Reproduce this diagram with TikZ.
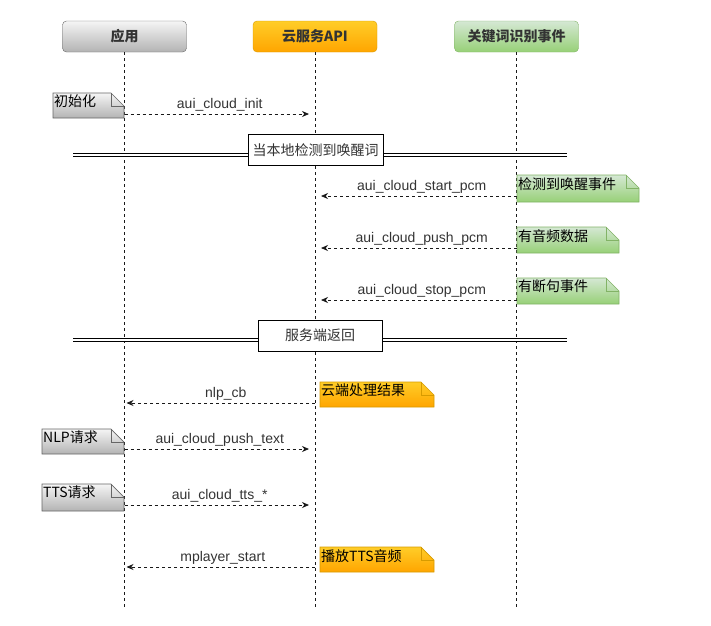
\documentclass[tikz,border=0pt]{standalone}
\usepackage{fontspec}
\setmainfont{Liberation Sans}
\newfontfamily\cjk{Noto Sans CJK SC}
\usetikzlibrary{arrows.meta, positioning, calc}
\definecolor{grayfill}{HTML}{F5F5F5}
\definecolor{graygrad}{HTML}{B3B3B3}
\definecolor{graystroke}{HTML}{666666}
\definecolor{orangefill}{HTML}{FFCD28}
\definecolor{orangegrad}{HTML}{FFA500}
\definecolor{orangestroke}{HTML}{D79B00}
\definecolor{greenfill}{HTML}{D5E8D4}
\definecolor{greengrad}{HTML}{97D077}
\definecolor{greenstroke}{HTML}{82B366}
\definecolor{inkgray}{HTML}{333333}

\tikzset{
    header/.style={draw=#1stroke, top color=#1fill, bottom color=#1grad, rounded corners=4pt,
        minimum width=124pt, minimum height=31pt, text=inkgray,
        font=\cjk\bfseries\fontsize{14}{17}\selectfont},
    lifeline/.style={draw=black!90, line width=0.8pt, dash pattern=on 3pt off 3pt},
    msg/.style={draw=black!90, line width=0.8pt, dash pattern=on 3pt off 3pt,
        -{Stealth[length=7pt, width=6pt]}},
    lbl/.style={midway, above, inner sep=1pt, yshift=1.5pt, text=inkgray,
        font=\fontsize{14}{17}\selectfont},
    divline/.style={draw=black, line width=0.8pt, double, double distance=2.6pt},
    divbox/.style={draw=black, fill=white, line width=0.8pt, minimum height=31pt,
        text=inkgray, font=\cjk\fontsize{14}{17}\selectfont},
    notetext/.style={anchor=north west, inner xsep=1pt, inner ysep=2pt, text=black,
        font=\cjk\fontsize{14}{17}\selectfont}
}

% note with folded corner: name, nw corner, se corner, colour, text
\newcommand{\notebox}[5]{%
    \coordinate (#1-nw) at #2;
    \coordinate (#1-se) at #3;
    \coordinate (#1-ne) at (#1-nw -| #1-se);
    \draw[draw=#4stroke, top color=#4fill, bottom color=#4grad, line width=0.7pt]
        (#1-nw) -- ($(#1-ne)+(-13,0)$) -- ($(#1-ne)+(0,13)$) -- (#1-se) -- (#1-nw |- #1-se) -- cycle;
    \draw[draw=#4stroke, line width=0.7pt] ($(#1-ne)+(-13,0)$) -- ($(#1-ne)+(-13,13)$) -- ($(#1-ne)+(0,13)$);
    \node[notetext] (#1) at (#1-nw) {#5};
}

\begin{document}
\begin{tikzpicture}[x=1pt, y=-1pt]
    \useasboundingbox (0,0) rectangle (711,625);

    % Participants
    \node[header=gray] (app) at (124.5,36.5) {应用};
    \node[header=orange] (api) at (315,36.5) {云服务API};
    \node[header=green] (kw) at (516.5,36.5) {关键词识别事件};

    % Lifelines
    \coordinate (bottom) at (0,607);
    \draw[lifeline] (app.south) -- (app |- bottom);
    \draw[lifeline] (api.south) -- (api |- bottom);
    \draw[lifeline] (kw.south) -- (kw |- bottom);

    % Dividers
    \coordinate (dl1) at (73,155);
    \coordinate (dr1) at (567,155);
    \draw[divline] (dl1) -- (dr1);
    \node[divbox, minimum width=135pt] (wake) at (315.5,150) {当本地检测到唤醒词};

    \coordinate (dl2) at (73,340);
    \coordinate (dr2) at (567,340);
    \draw[divline] (dl2) -- (dr2);
    \node[divbox, minimum width=124pt] (back) at (320,335.5) {服务端返回};

    % Notes
    \notebox{init}{(53,93)}{(124,118)}{gray}{初始化}
    \notebox{wakeup}{(517,175)}{(639,202)}{green}{检测到唤醒事件}
    \notebox{audio}{(517,227)}{(619,253)}{green}{有音频数据}
    \notebox{pause}{(517,278)}{(619,304)}{green}{有断句事件}
    \notebox{result}{(320,382)}{(434,407)}{orange}{云端处理结果}
    \notebox{nlp}{(42,429)}{(124,454)}{gray}{NLP请求}
    \notebox{tts}{(42,484)}{(124,511)}{gray}{TTS请求}
    \notebox{play}{(320,547)}{(434,572)}{orange}{播放TTS音频}

    % Messages
    \coordinate (r1) at (0,114);
    \coordinate (r2) at (0,196);
    \coordinate (r3) at (0,248);
    \coordinate (r4) at (0,300);
    \coordinate (r5) at (0,403);
    \coordinate (r6) at (0,449);
    \coordinate (r7) at (0,505);
    \coordinate (r8) at (0,567);
    \draw[msg, shorten >=6pt] (app |- r1) -- (api |- r1) node[lbl] {aui\_cloud\_init};
    \draw[msg, shorten >=6pt] (kw |- r2) -- (api |- r2) node[lbl, xshift=6pt] {aui\_cloud\_start\_pcm};
    \draw[msg, shorten >=6pt] (kw |- r3) -- (api |- r3) node[lbl, xshift=6pt] {aui\_cloud\_push\_pcm};
    \draw[msg, shorten >=6pt] (kw |- r4) -- (api |- r4) node[lbl, xshift=6pt] {aui\_cloud\_stop\_pcm};
    \draw[msg, shorten >=2pt] (api |- r5) -- (app |- r5) node[lbl, xshift=6pt] {nlp\_cb};
    \draw[msg, shorten >=6pt] (app |- r6) -- (api |- r6) node[lbl] {aui\_cloud\_push\_text};
    \draw[msg, shorten >=6pt] (app |- r7) -- (api |- r7) node[lbl] {aui\_cloud\_tts\_*};
    \draw[msg, shorten >=2pt] (api |- r8) -- (app |- r8) node[lbl, xshift=3pt] {mplayer\_start};
\end{tikzpicture}
\end{document}
